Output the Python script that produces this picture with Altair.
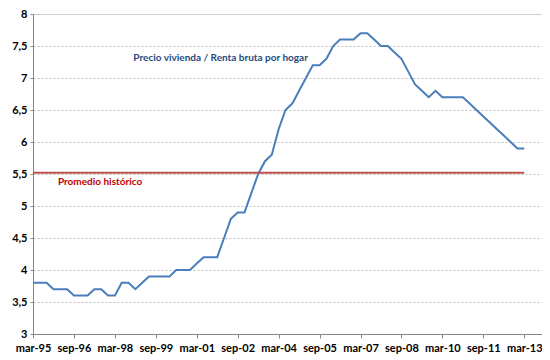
import altair as alt
import pandas as pd

tick_labels = ["mar-95", "sep-96", "mar-98", "sep-99", "mar-01", "sep-02", "mar-04",
               "sep-05", "mar-07", "sep-08", "mar-10", "sep-11", "mar-13"]

# quarterly values, mar-95 .. mar-13
ratio = [3.8, 3.8, 3.8, 3.7, 3.7, 3.7, 3.6, 3.6, 3.6, 3.7,
         3.7, 3.6, 3.6, 3.8, 3.8, 3.7, 3.8, 3.9, 3.9, 3.9,
         3.9, 4.0, 4.0, 4.0, 4.1, 4.2, 4.2, 4.2, 4.5, 4.8,
         4.9, 4.9, 5.2, 5.5, 5.7, 5.8, 6.2, 6.5, 6.6, 6.8,
         7.0, 7.2, 7.2, 7.3, 7.5, 7.6, 7.6, 7.6, 7.7, 7.7,
         7.6, 7.5, 7.5, 7.4, 7.3, 7.1, 6.9, 6.8, 6.7, 6.8,
         6.7, 6.7, 6.7, 6.7, 6.6, 6.5, 6.4, 6.3, 6.2, 6.1,
         6.0, 5.9, 5.9]

historic_avg = 5.52

df = pd.DataFrame({"q": list(range(len(ratio))), "v": ratio})
avg_df = pd.DataFrame({"q0": [0], "q1": [len(ratio) - 1], "v": [historic_avg]})
lab1 = pd.DataFrame({"q": [27.5], "v": [7.32], "t": ["Precio vivienda / Renta bruta por hogar"]})
lab2 = pd.DataFrame({"q": [3.65], "v": [5.37], "t": ["Promedio histórico"]})

font = "Lato"
label_arr = "[" + ",".join(f"'{s}'" for s in tick_labels) + "]"

x_scale = alt.Scale(domain=[0, 74.6], nice=False, zero=False)
y_scale = alt.Scale(domain=[3, 8], nice=False, zero=False)

x_axis = alt.Axis(values=list(range(0, 73, 6)), labelExpr=f"{label_arr}[round(datum.value/6)]",
                  title=None, grid=False, domainColor="#868686", tickColor="#868686",
                  tickSize=4, labelPadding=4, labelFont=font, labelFontWeight="bold",
                  labelFontSize=11, labelColor="#000000", labelFlush=False)
y_axis = alt.Axis(values=[3, 3.5, 4, 4.5, 5, 5.5, 6, 6.5, 7, 7.5, 8],
                  labelExpr="replace(toString(datum.value), '.', ',')",
                  title=None, grid=True, gridColor="#bfbfbf", gridDash=[2, 2], gridWidth=1,
                  domainColor="#868686", tickColor="#868686", tickSize=3, labelPadding=3,
                  labelFont=font, labelFontWeight="bold", labelFontSize=11, labelColor="#000000",
                  labelOverlap=False, labelFlush=False)

line = alt.Chart(df).mark_line(color="#4A7EBB", strokeWidth=2).encode(
    x=alt.X("q:Q", scale=x_scale, axis=x_axis),
    y=alt.Y("v:Q", scale=y_scale, axis=y_axis),
)

avg = alt.Chart(avg_df).mark_rule(color="#C0504D", strokeWidth=2).encode(
    x=alt.X("q0:Q", scale=x_scale, axis=x_axis), x2="q1:Q",
    y=alt.Y("v:Q", scale=y_scale, axis=y_axis)
)

t1 = alt.Chart(lab1).mark_text(font=font, fontWeight="bold", fontSize=10,
                               color="#1F497D", align="center", baseline="middle").encode(
    x=alt.X("q:Q", scale=x_scale, axis=x_axis), y=alt.Y("v:Q", scale=y_scale, axis=y_axis), text="t:N")
t2 = alt.Chart(lab2).mark_text(font=font, fontWeight="bold", fontSize=10,
                               color="#C00000", align="left", baseline="middle").encode(
    x=alt.X("q:Q", scale=x_scale, axis=x_axis), y=alt.Y("v:Q", scale=y_scale, axis=y_axis), text="t:N")

chart = alt.layer(line, avg, t1, t2).properties(
    width=509, height=320,
    padding={"left": 25, "top": 6, "right": 0, "bottom": 20},
    autosize="none",
).configure_view(stroke=None).configure(background="#ffffff")

chart.save("out.html", embed_options={"renderer": "svg", "actions": False})
